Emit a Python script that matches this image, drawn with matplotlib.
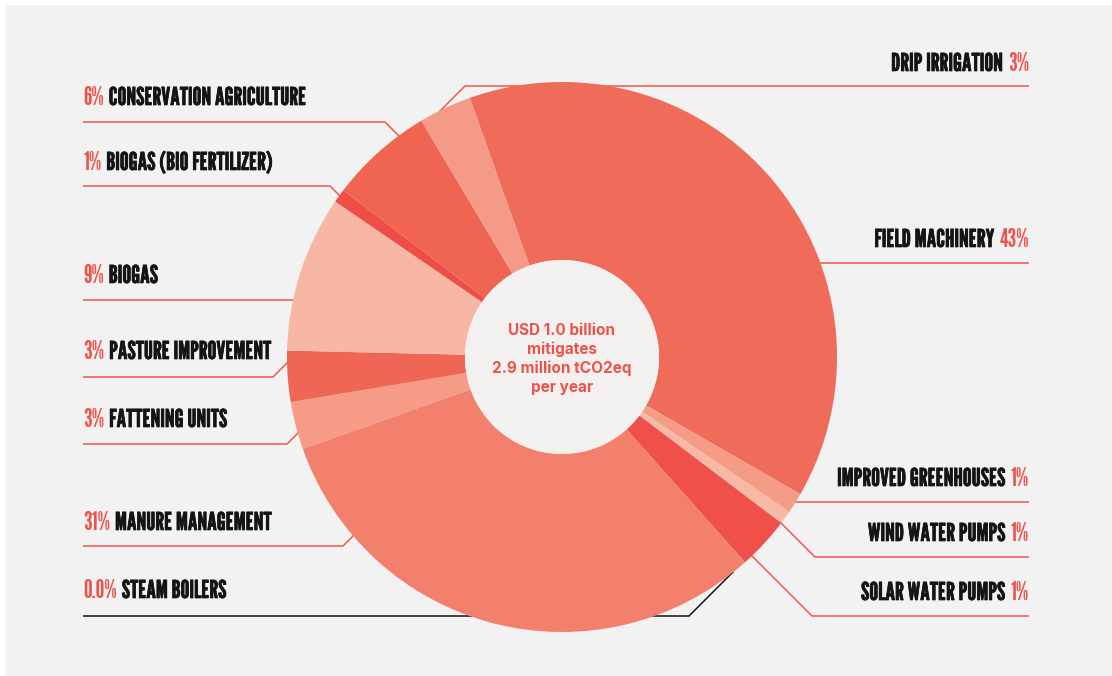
import matplotlib
matplotlib.use("Agg")
import matplotlib.pyplot as plt
import matplotlib.patheffects as pe
from matplotlib import font_manager
from matplotlib.patches import Circle, Rectangle
import numpy as np

W, H = 1112, 676

# wedges, clockwise starting just left of 12 o'clock
SEGMENTS = [
    "Field machinery", "Improved greenhouses", "Wind water pumps", "Solar water pumps",
    "Steam boilers", "Manure management", "Fattening units", "Pasture improvement",
    "Biogas", "Biogas (bio fertilizer)", "Conservation agriculture", "Drip irrigation",
]
SHARES = [38.8, 1.2, 0.8, 3.1, 0.0, 31.2, 2.8, 3.0, 9.2, 0.8, 6.1, 3.1]
COLORS = [
    "#f06c5a", "#f59c86", "#f8b8a6", "#ef5049",
    "#ef5049", "#f2806c", "#f59b86", "#f06654",
    "#f8b7a5", "#ef4e46", "#f06452", "#f59a86",
]

LEFT_PCTS = ["6%", "1%", "9%", "3%", "3%", "31%", "0.0%"]
LEFT_LABELS = [
    "CONSERVATION AGRICULTURE", "BIOGAS (BIO FERTILIZER)", "BIOGAS",
    "PASTURE IMPROVEMENT", "FATTENING UNITS", "MANURE MANAGEMENT", "STEAM BOILERS",
]
RIGHT_LABELS = [
    "DRIP IRRIGATION", "FIELD MACHINERY", "IMPROVED GREENHOUSES",
    "WIND WATER PUMPS", "SOLAR WATER PUMPS",
]
RIGHT_PCTS = ["3%", "43%", "1%", "1%", "1%"]

CENTER_TEXT = "USD 1.0 billion\nmitigates\n2.9 million tCO2eq\nper year"

# layout in pixels, y measured from the top
CX, CY, R_OUT, R_IN = 562, 357, 275, 97
LEFT_X, RIGHT_X = 83, 1029
LEFT_BASE = [105, 170, 283, 359, 427, 530, 598]
LEFT_LINE = [122, 186, 300, 377, 444, 546, 616]
LEFT_KINK = [385, 330, None, 273, 287, 343, 689]
LEFT_DIR = [(1, 1), (1, 1), (1, 0), (1, -1), (1, -1), (1, -1), (1, -1)]
RIGHT_BASE = [71, 247, 486, 541, 600]
RIGHT_LINE = [86, 263, 502, 557, 616]
RIGHT_KINK = [465, None, None, 815, 812]
RIGHT_DIR = [(-1, 1), (-1, 0), (-1, 0), (-1, -1), (-1, -1)]

RED = "#f0524b"
LINE_RED = "#f0574f"
INK = "#141414"
BG = "#f2f2f2"

names = {f.name for f in font_manager.fontManager.ttflist}
condensed = ["League Gothic", "Antonio", "Saira Extra Condensed", "Oswald",
             "Barlow Condensed", "Roboto Condensed", "IBM Plex Sans Condensed"]
LABEL_FONT = [n for n in condensed if n in names][:1] + ["DejaVu Sans"]
CENTER_FONT = ["Inter", "DejaVu Sans"] if "Inter" in names else ["DejaVu Sans"]


def fy(y):
    return H - y


def hit_circle(px, py, dx, dy):
    # first point where the ray from (px, py) meets the outer circle (pixel coords)
    ux, uy = np.array([dx, dy]) / np.hypot(dx, dy)
    ox, oy = px - CX, py - CY
    b = ux * ox + uy * oy
    c = ox * ox + oy * oy - R_OUT ** 2
    t = -b - np.sqrt(max(b * b - c, 0))
    return px + (t + 3) * ux, py + (t + 3) * uy


def leader(ax, x0, y, kink, direction, color):
    if kink is None:
        ex, ey = hit_circle(x0, y, *direction)
        xs, ys = [x0, ex], [y, ey]
    else:
        ex, ey = hit_circle(kink, y, *direction)
        xs, ys = [x0, kink, ex], [y, y, ey]
    ax.plot(xs, [fy(v) for v in ys], color=color, lw=1.1, zorder=1, solid_capstyle="butt")


def label_text(ax, x, y, s, color, ha, stroke=0.0):
    effects = [pe.withStroke(linewidth=stroke, foreground=color)] if stroke else None
    return ax.text(x, y, s, ha=ha, va="baseline", color=color, fontsize=LABEL_SIZE,
                   fontweight="bold", family=LABEL_FONT, path_effects=effects)


fig = plt.figure(figsize=(W / 100, H / 100), dpi=100)
fig.patch.set_facecolor("white")
ax = fig.add_axes([0, 0, 1, 1])
renderer = fig.canvas.get_renderer()

# size the condensed label font so "3% PASTURE IMPROVEMENT" spans ~189 px as in the original
probe = ax.text(0, 0, "3% PASTURE IMPROVEMENT", fontsize=20, fontweight="bold", family=LABEL_FONT)
LABEL_SIZE = min(20 * 187 / probe.get_window_extent(renderer=renderer).width, 19)
probe.remove()

ax.add_patch(Rectangle((5, 0), W - 5, H - 5, facecolor=BG, edgecolor="none", zorder=0))

wedges, _ = ax.pie(
    SHARES,
    colors=COLORS,
    center=(CX, fy(CY)),
    radius=R_OUT,
    startangle=109.6,
    counterclock=False,
    wedgeprops=dict(width=R_OUT - R_IN, linewidth=0),
)
for w in wedges:
    w.set_zorder(2)
ax.add_patch(Circle((CX, fy(CY)), R_IN, facecolor="#f3f1f0", edgecolor="none", zorder=3))
ax.text(CX, fy(CY) - 2, CENTER_TEXT, ha="center", va="center", color=RED,
        fontsize=11, fontweight="bold", family=CENTER_FONT, linespacing=1.3, zorder=4)

for pct, label, base, ly, kink, d in zip(LEFT_PCTS, LEFT_LABELS, LEFT_BASE, LEFT_LINE, LEFT_KINK, LEFT_DIR):
    t = label_text(ax, LEFT_X, fy(base), pct, RED, "left")
    width = t.get_window_extent(renderer=renderer).width
    label_text(ax, LEFT_X + width + 5, fy(base), label, INK, "left", stroke=0.5)
    color = INK if pct == "0.0%" else LINE_RED
    leader(ax, LEFT_X, ly, kink, d, color)

for pct, label, base, ly, kink, d in zip(RIGHT_PCTS, RIGHT_LABELS, RIGHT_BASE, RIGHT_LINE, RIGHT_KINK, RIGHT_DIR):
    t = label_text(ax, RIGHT_X, fy(base), pct, RED, "right")
    width = t.get_window_extent(renderer=renderer).width
    label_text(ax, RIGHT_X - width - 5, fy(base), label, INK, "right", stroke=0.5)
    leader(ax, RIGHT_X, ly, kink, d, LINE_RED)

ax.set_xlim(0, W)
ax.set_ylim(0, H)
ax.set_aspect("equal")
ax.axis("off")

fig.savefig("out.png", dpi=100, facecolor=fig.get_facecolor())
